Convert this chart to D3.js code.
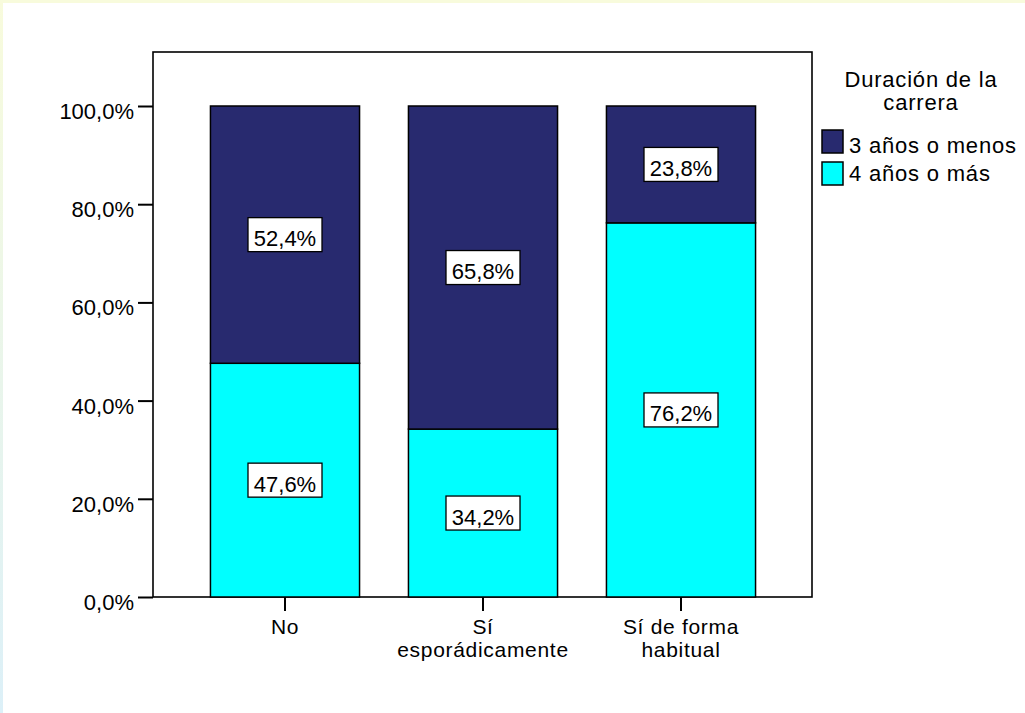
<!DOCTYPE html>
<html><head><meta charset="utf-8">
<script src="https://cdn.jsdelivr.net/npm/d3@7"></script>
<style>body{margin:0;background:#fff;}svg{display:block;font-family:"Liberation Sans",Arial,sans-serif;}</style>
</head><body>
<svg id="c" width="1025" height="713"></svg>
<script>
const categories = [["No"], ["Sí", "esporádicamente"], ["Sí de forma", "habitual"]];
const catKeys = ["No", "Sí esporádicamente", "Sí de forma habitual"];
const series = ["3 años o menos", "4 años o más"];
const valuesShort = [52.4, 65.8, 23.8];
const valuesLong = [47.6, 34.2, 76.2];
const yTicks = [0, 20, 40, 60, 80, 100];
const legendTitle = ["Duración de la", "carrera"];
const colors = ["#282a6f", "#00ffff"];

(function(){
const svg = d3.select("#c");
const defs = svg.append("defs");
const g1 = defs.append("linearGradient").attr("id","lg").attr("x1",0).attr("y1",0).attr("x2",0).attr("y2",1);
g1.append("stop").attr("offset","0%").attr("stop-color","#f8fbdc");
g1.append("stop").attr("offset","100%").attr("stop-color","#dcf0f8");
svg.append("rect").attr("x",0).attr("y",0).attr("width",1025).attr("height",713).attr("fill","#fff");
svg.append("rect").attr("x",0).attr("y",0).attr("width",1025).attr("height",3).attr("fill","#f8fbdc");
svg.append("rect").attr("x",0).attr("y",0).attr("width",3).attr("height",713).attr("fill","url(#lg)");

const pl = 153, pr = 812, pt = 52, pb = 597;
const fs = 22;
const y = d3.scaleLinear().domain([0, 100]).range([pb, 106]);
const x = d3.scaleBand().domain(catKeys).range([186, 780]).paddingInner(0.247).paddingOuter(0.1235);

svg.append("rect").attr("x",pl).attr("y",pt).attr("width",pr-pl).attr("height",pb-pt)
  .attr("fill","none").attr("stroke","#000").attr("stroke-width",1.6);

const data = catKeys.map((k,i)=>({key:k, vals:[valuesLong[i], valuesShort[i]]}));
data.forEach(d=>{
  const segs = [
    {y0:0, y1:d.vals[0], c:colors[1]},
    {y0:d.vals[0], y1:d.vals[0]+d.vals[1], c:colors[0]}
  ];
  segs.forEach(s=>{
    svg.append("rect").attr("x",x(d.key)).attr("y",y(s.y1)).attr("width",x.bandwidth())
      .attr("height",y(s.y0)-y(s.y1)).attr("fill",s.c).attr("stroke","#000").attr("stroke-width",1.5);
  });
  segs.forEach(s=>{
    const v = s.y1 - s.y0;
    const cx = x(d.key) + x.bandwidth()/2;
    const cy = y((s.y0+s.y1)/2);
    const txt = d3.format(".1f")(v).replace(".", ",") + "%";
    svg.append("rect").attr("x",cx-37).attr("y",cy-17).attr("width",74).attr("height",34)
      .attr("fill","#fff").attr("stroke","#000").attr("stroke-width",1.3);
    svg.append("text").attr("x",cx).attr("y",cy+11.5).attr("text-anchor","middle")
      .attr("font-size",fs).attr("fill","#000").text(txt);
  });
});

const ya = svg.append("g").attr("transform",`translate(${pl},0)`)
  .call(d3.axisLeft(y).tickValues(yTicks).tickSize(15).tickPadding(4)
    .tickFormat(d=>d3.format(".1f")(d).replace(".", ",")+"%"));
ya.select(".domain").remove();
ya.selectAll("line").attr("stroke","#000").attr("stroke-width",2);
ya.selectAll("text").attr("font-size",fs).attr("fill","#000").attr("font-family","Liberation Sans, Arial, sans-serif").attr("dy","12.5px");

const xa = svg.append("g").attr("transform",`translate(0,${pb})`)
  .call(d3.axisBottom(x).tickSize(14).tickFormat(""));
xa.select(".domain").remove();
xa.selectAll("line").attr("stroke","#000").attr("stroke-width",2);
catKeys.forEach((k,i)=>{
  const t = svg.append("text").attr("x",x(k)+x.bandwidth()/2).attr("y",634).attr("text-anchor","middle")
    .attr("font-size",21).attr("letter-spacing","0.7px").attr("fill","#000");
  categories[i].forEach((line,j)=>{
    t.append("tspan").attr("x",x(k)+x.bandwidth()/2).attr("dy", j===0?0:22.5).text(line);
  });
});

const lx = 921;
legendTitle.forEach((l,i)=>{
  svg.append("text").attr("x",lx).attr("y",87+i*23).attr("text-anchor","middle").attr("font-size",fs)
    .attr("letter-spacing","0.8px").attr("fill","#000").text(l);
});
series.forEach((s,i)=>{
  svg.append("rect").attr("x",822).attr("y",130+i*32).attr("width",21).attr("height",23)
    .attr("fill",colors[i]).attr("stroke","#000").attr("stroke-width",1.5);
  svg.append("text").attr("x",849).attr("y",153+i*28).attr("font-size",fs).attr("letter-spacing","0.8px")
    .attr("fill","#000").text(s);
});
})();
</script>
</body></html>
